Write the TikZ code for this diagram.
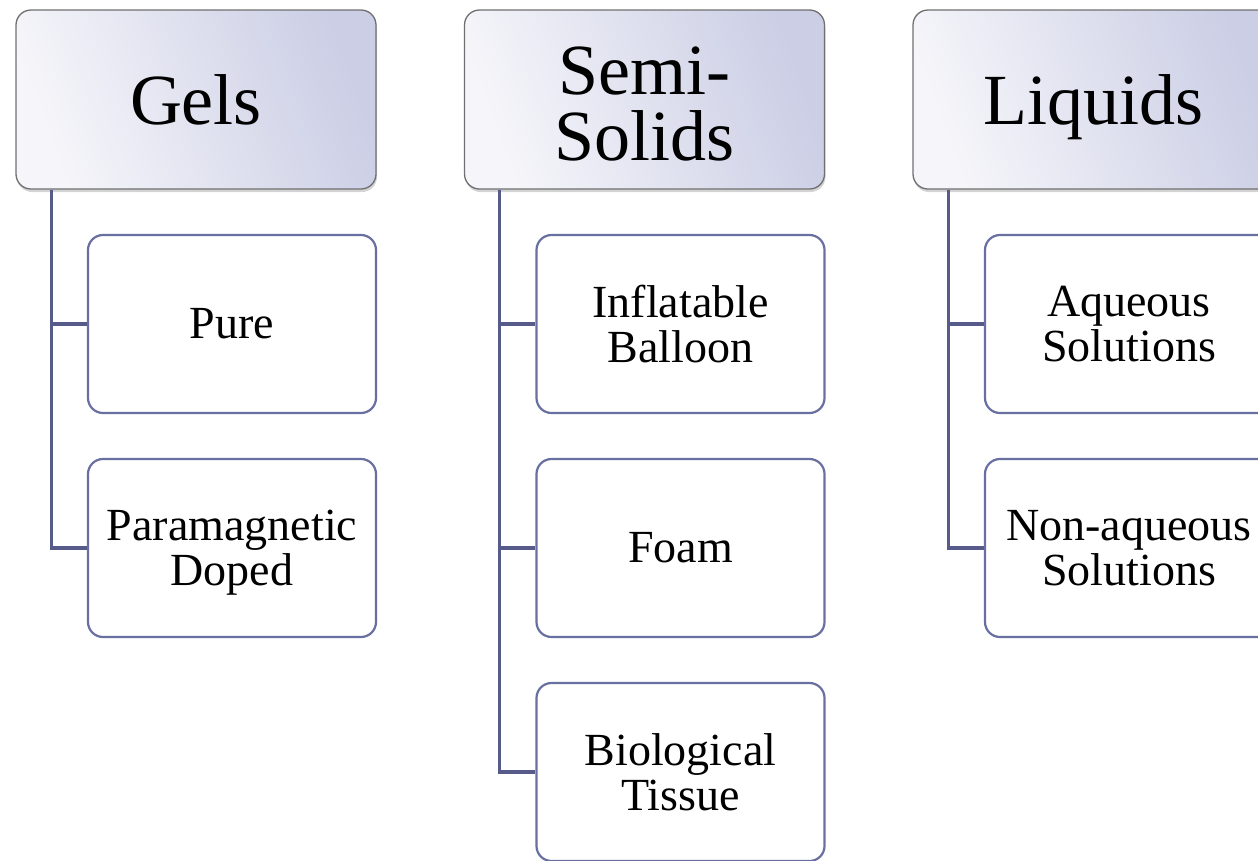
\documentclass[tikz,border=0pt]{standalone}
\usepackage{amsmath}
\usepackage{fontspec}
\setmainfont{Liberation Serif}
\usepackage{xcolor}
\usetikzlibrary{shadows}

\definecolor{hdrlight}{HTML}{F6F6FA}
\definecolor{hdrdark}{HTML}{CBCEE5}
\definecolor{hdrline}{HTML}{707070}
\definecolor{itemline}{HTML}{6A6FA2}
\definecolor{stemline}{HTML}{575B8A}

\tikzset{
    category/.style={
        rounded corners=15pt, draw=hdrline, line width=1.3pt,
        left color=hdrlight, right color=hdrdark, shading angle=110,
        drop shadow={opacity=0.35, shadow xshift=1pt, shadow yshift=-3pt},
        minimum width=360pt, minimum height=179pt, inner sep=0pt,
        text width=340pt, align=center,
        font=\fontsize{72}{66}\selectfont,
    },
    item/.style={
        rounded corners=15pt, draw=itemline, line width=2.2pt, fill=white,
        minimum width=288pt, minimum height=178pt, inner sep=0pt,
        text width=280pt, align=center,
        font=\fontsize{46}{45}\selectfont,
    },
    stem/.style={draw=stemline, line width=3.2pt},
}

\begin{document}
\begin{tikzpicture}[x=1pt, y=-1pt]
    \useasboundingbox (0,0) rectangle (1258,860);

    % headers
    \node[category] (gels) at (196,99.5) {Gels};
    \node[category] (semi) at (644.5,99.5) {\rule{0pt}{56pt}Semi-\\Solids};
    \node[category] (liquids) at (1093,99.5) {\smash[b]{Liquids}};

    % gels
    \node[item] (pure) at (232,324) {Pure};
    \node[item] (para) at (232,548) {Paramagnetic\\\smash[b]{Doped}};
    \coordinate (gelsstem) at ([xshift=36pt]gels.south west);
    \draw[stem] (gelsstem) |- (pure.west);
    \draw[stem] (gelsstem) |- (para.west);

    % semi-solids
    \node[item] (balloon) at (680.5,324) {Inflatable\\Balloon};
    \node[item] (foam) at (680.5,548) {Foam};
    \node[item] (tissue) at (680.5,772) {Biological\\Tissue};
    \coordinate (semistem) at ([xshift=36pt]semi.south west);
    \draw[stem] (semistem) |- (balloon.west);
    \draw[stem] (semistem) |- (foam.west);
    \draw[stem] (semistem) |- (tissue.west);

    % liquids
    \node[item] (aqueous) at (1129,324) {Aqueous\\Solutions};
    \node[item] (nonaq) at (1129,548) {Non-aqueous\\Solutions};
    \coordinate (liqstem) at ([xshift=36pt]liquids.south west);
    \draw[stem] (liqstem) |- (aqueous.west);
    \draw[stem] (liqstem) |- (nonaq.west);
\end{tikzpicture}
\end{document}
